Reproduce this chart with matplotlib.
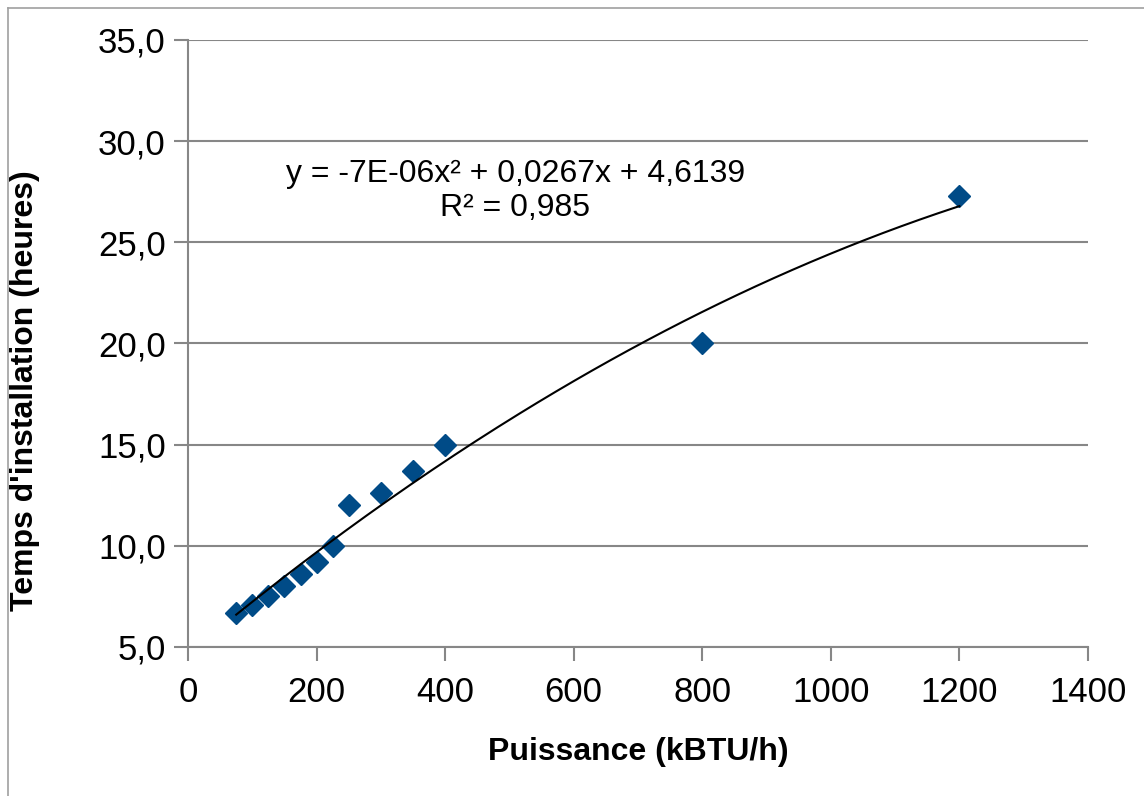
import numpy as np
import matplotlib
matplotlib.use('Agg')
import matplotlib.pyplot as plt
from matplotlib.ticker import FuncFormatter

# puissance (kBTU/h) vs temps d'installation (heures)
puissance = [75, 100, 125, 150, 175, 200, 225, 250, 300, 350, 400, 800, 1200]
temps = [6.7, 7.1, 7.5, 8.0, 8.6, 9.2, 10.0, 12.0, 12.6, 13.7, 15.0, 20.0, 27.3]
y_ticks = [5, 10, 15, 20, 25, 30, 35]
x_ticks = [0, 200, 400, 600, 800, 1000, 1200, 1400]
equation = 'y = -7E-06x² + 0,0267x + 4,6139'
r2_text = 'R² = 0,985'

plt.rcParams['font.family'] = ['Liberation Sans', 'DejaVu Sans']

fig = plt.figure(figsize=(11.44, 7.96), dpi=100)
ax = fig.add_axes([188/1144, 1-647/796, (1088-188)/1144, (647-40)/796])

grid_col = '#878787'
for yv in y_ticks:
    ax.axhline(yv, color=grid_col, lw=1.5, zorder=1)

# polynomial trend line (2nd order), as in the spreadsheet
coef = np.polyfit(puissance, temps, 2)
xs = np.linspace(min(puissance), max(puissance), 200)
ax.plot(xs, np.polyval(coef, xs), color='black', lw=1.5, zorder=3)

ax.plot(puissance, temps, linestyle='none', marker='D', markersize=11,
        color='#004B87', zorder=2)

ax.set_xlim(0, 1400)
ax.set_ylim(5, 35)
ax.set_xticks(x_ticks)
ax.set_yticks(y_ticks)
ax.yaxis.set_major_formatter(FuncFormatter(lambda v, p: ('%.1f' % v).replace('.', ',')))
for s in ['top', 'right']:
    ax.spines[s].set_visible(False)
for s in ['left', 'bottom']:
    ax.spines[s].set_color(grid_col)
    ax.spines[s].set_linewidth(1.5)
ax.tick_params(direction='out', length=10, width=1.5, color=grid_col,
               labelsize=25, pad=6)
ax.tick_params(axis='x', pad=11)

ax.set_xlabel('Puissance (kBTU/h)', fontsize=23, fontweight='bold', va='center')
ax.set_ylabel("Temps d'installation (heures)", fontsize=23, fontweight='bold', va='center')
ax.xaxis.set_label_coords(0.5, (647-752)/607)
ax.yaxis.set_label_coords((25-188)/900, (647-391)/607)

ax.text(509, 28.4, equation, ha='center', va='center', fontsize=23)
ax.text(509, 26.7, r2_text, ha='center', va='center', fontsize=23)

# outer frame (partly cropped in the original)
fig.add_artist(plt.Line2D([8/1144, 8/1144], [0, 1-8/796], color='#a0a0a0', lw=1.2))
fig.add_artist(plt.Line2D([8/1144, 1], [1-8/796, 1-8/796], color='#a0a0a0', lw=1.2))

fig.savefig('out.png', dpi=100)
